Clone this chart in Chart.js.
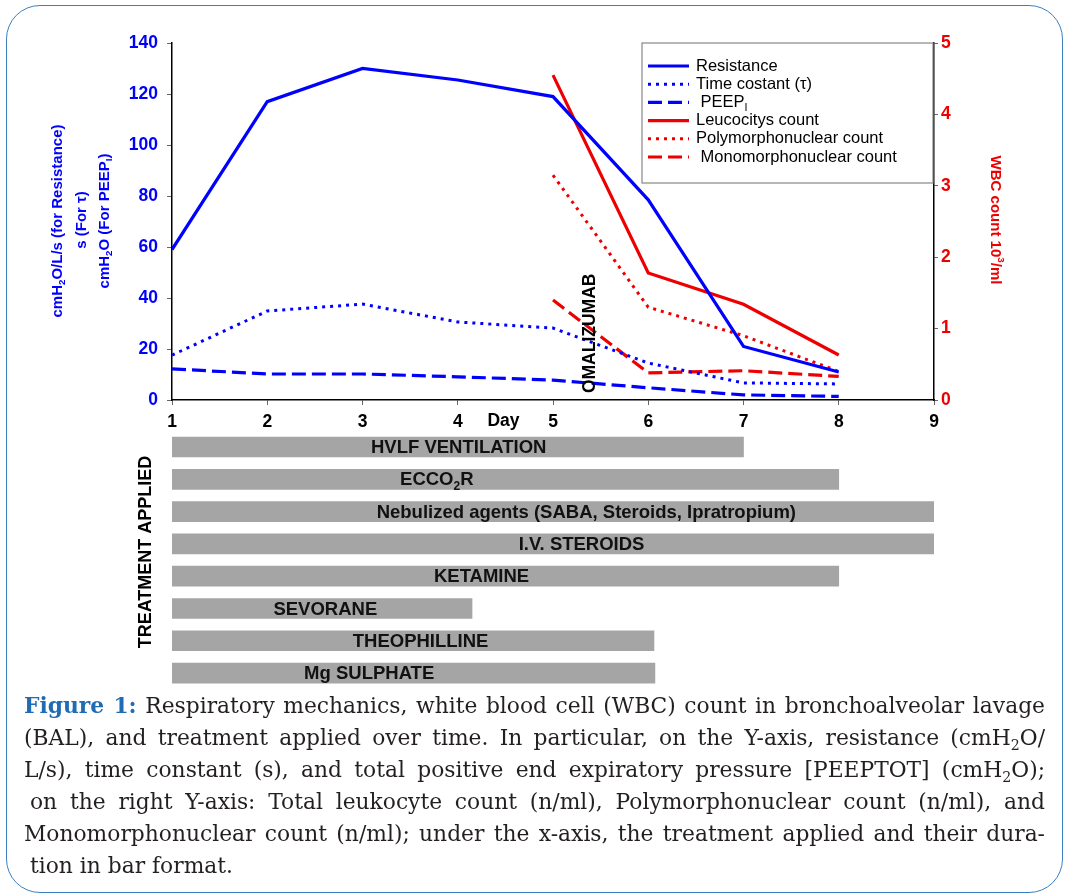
<!DOCTYPE html>
<html><head><meta charset="utf-8">
<script src="https://cdn.jsdelivr.net/npm/chart.js@4.4.0/dist/chart.umd.min.js"></script>
<style>
html,body{margin:0;padding:0;background:#fff;}
body{width:1065px;height:895px;position:relative;overflow:hidden;}
#frame{position:absolute;left:6px;top:5px;width:1057px;height:888px;border:1.5px solid #3b7fc0;border-radius:34px;box-sizing:border-box;}
#c1{position:absolute;left:0;top:0;}
#c2{position:absolute;left:0;top:425px;}
#caption{position:absolute;left:24px;top:690px;width:1021px;font-family:'DejaVu Serif',serif;font-size:21.8px;line-height:32px;color:#231f20;}
#caption .ln{text-align:justify;text-align-last:justify;height:32px;overflow:visible;}
#caption .last{text-align-last:left;}
#caption b{color:#1f6cb4;}
#caption sub{font-size:0.65em;line-height:0;vertical-align:-0.35em;}
</style></head>
<body>
<div id="frame"></div>
<canvas id="c1" width="1065" height="440"></canvas>
<canvas id="c2" width="1065" height="270"></canvas>
<div id="caption">
<div class="ln"><b>Figure 1:</b> Respiratory mechanics, white blood cell (WBC) count in bronchoalveolar lavage</div>
<div class="ln">(BAL), and treatment applied over time. In particular, on the Y-axis, resistance (cmH<sub>2</sub>O/</div>
<div class="ln">L/s), time constant (s), and total positive end expiratory pressure [PEEPTOT] (cmH<sub>2</sub>O);</div>
<div class="ln" style="padding-left:6px">on the right Y-axis: Total leukocyte count (n/ml), Polymorphonuclear count (n/ml), and</div>
<div class="ln">Monomorphonuclear count (n/ml); under the x-axis, the treatment applied and their dura-</div>
<div class="ln last" style="padding-left:6px">tion in bar format.</div>
</div>
<script>
// ---------- DATA ----------
const days = [1, 2, 3, 4, 5, 6, 7, 8];
const resistance = [59, 117, 130, 125.5, 119, 78.5, 21, 11];
const timeConstant = [17.6, 34.9, 37.6, 30.6, 28.2, 14.5, 6.7, 6.3];
const peepI = [12.2, 10.2, 10.2, 9.1, 7.8, 4.8, 2.0, 1.4];
const wbcDays = [5, 6, 7, 8];
const leucocytes = [4.55, 1.78, 1.34, 0.63];
const polymorphonuclear = [3.15, 1.30, 0.90, 0.40];
const monomorphonuclear = [1.40, 0.38, 0.41, 0.33];
const leftTicks = [0, 20, 40, 60, 80, 100, 120, 140];
const rightTicks = [0, 1, 2, 3, 4, 5];
const dayTicks = [1, 2, 3, 4, 5, 6, 7, 8, 9];
const treatments = ['HVLF VENTILATION', 'ECCO_{2}R', 'Nebulized agents (SABA, Steroids, Ipratropium)', 'I.V. STEROIDS', 'KETAMINE', 'SEVORANE', 'THEOPHILLINE', 'Mg SULPHATE'];
const treatmentStart = [1, 1, 1, 1, 1, 1, 1, 1];
const treatmentEnd = [7, 8, 9, 9, 8, 4.15, 6.06, 6.07];

// ---------- helpers ----------
const BLUE = '#0000ff', RED = '#ee0000';
function parseRich(s) {
  const out = []; const re = /([_^])\{([^}]*)\}/g; let last = 0, m;
  while ((m = re.exec(s))) {
    if (m.index > last) out.push({ t: s.slice(last, m.index) });
    out.push({ t: m[2], mode: m[1] === '_' ? 'sub' : 'sup' });
    last = re.lastIndex;
  }
  if (last < s.length) out.push({ t: s.slice(last) });
  return out;
}
function fontStr(weight, size, fam) { return weight + ' ' + size + 'px ' + fam; }
function richWidth(ctx, s, size, weight, fam) {
  let w = 0;
  for (const seg of parseRich(s)) {
    ctx.font = fontStr(weight, seg.mode ? size * 0.65 : size, fam);
    w += ctx.measureText(seg.t).width;
  }
  return w;
}
function drawRich(ctx, s, x, y, size, weight, fam, align) {
  const w = richWidth(ctx, s, size, weight, fam);
  let cx = align === 'center' ? x - w / 2 : (align === 'right' ? x - w : x);
  ctx.textAlign = 'left'; ctx.textBaseline = 'middle';
  for (const seg of parseRich(s)) {
    const sz = seg.mode ? size * 0.65 : size;
    ctx.font = fontStr(weight, sz, fam);
    const dy = seg.mode === 'sub' ? size * 0.32 : (seg.mode === 'sup' ? -size * 0.38 : 0);
    ctx.fillText(seg.t, cx, y + dy);
    cx += ctx.measureText(seg.t).width;
  }
}
const SANS = '"Liberation Sans", Arial, sans-serif';

// ---------- main chart ----------
const legendLabels = ['Resistance', 'Time costant (τ)', ' PEEP_{I}', 'Leucocitys count', 'Polymorphonuclear count', ' Monomorphonuclear count'];

const annotations = {
  id: 'annotations',
  afterDraw(chart) {
    const ctx = chart.ctx, xs = chart.scales.x, yl = chart.scales.y;
    ctx.save();
    const lt = chart.options.plugins.annotations.leftTitles;
    lt.forEach(t => {
      ctx.save(); ctx.translate(t.x, t.y); ctx.rotate(-Math.PI / 2);
      ctx.fillStyle = BLUE; drawRich(ctx, t.text, 0, 0, 15, 'bold', SANS, 'center');
      ctx.restore();
    });
    const rt = chart.options.plugins.annotations.rightTitle;
    ctx.save(); ctx.translate(rt.x, rt.y); ctx.rotate(Math.PI / 2);
    ctx.fillStyle = RED; drawRich(ctx, rt.text, 0, 0, 15, 'bold', SANS, 'center');
    ctx.restore();
    ctx.fillStyle = '#000';
    drawRich(ctx, 'Day', xs.getPixelForValue(4.48), xs.top + 21, 17.5, 'bold', SANS, 'center');
    ctx.save();
    ctx.translate(xs.getPixelForValue(5.39), yl.getPixelForValue(2.7)); ctx.rotate(-Math.PI / 2);
    ctx.fillStyle = '#000'; drawRich(ctx, 'OMALIZUMAB', 0, 0, 17.5, 'bold', SANS, 'left');
    ctx.restore();
    const L = chart.options.plugins.annotations.legendBox;
    ctx.strokeStyle = '#888'; ctx.lineWidth = 1.2;
    ctx.strokeRect(L.x0, L.y0, L.x1 - L.x0, L.y1 - L.y0);
    chart.data.datasets.forEach((ds, i) => {
      const y = L.rowStart + i * L.rowStep;
      ctx.save();
      ctx.strokeStyle = ds.borderColor; ctx.lineWidth = ds.borderWidth;
      ctx.setLineDash(ds.borderDash || []);
      ctx.beginPath(); ctx.moveTo(L.x0 + 6, y); ctx.lineTo(L.x0 + 47, y); ctx.stroke();
      ctx.restore();
      ctx.fillStyle = '#000';
      drawRich(ctx, legendLabels[i], L.x0 + 54, y, 16.5, 'normal', SANS, 'left');
    });
    ctx.restore();
  }
};

const tickFont = { family: SANS, size: 17.5, weight: 'bold' };
new Chart(document.getElementById('c1'), {
  type: 'line',
  data: {
    datasets: [
      { label: legendLabels[0], data: days.map((d, i) => ({ x: d, y: resistance[i] })), borderColor: BLUE, borderWidth: 3.2, yAxisID: 'y' },
      { label: legendLabels[1], data: days.map((d, i) => ({ x: d, y: timeConstant[i] })), borderColor: BLUE, borderWidth: 3, borderDash: [3, 5], yAxisID: 'y' },
      { label: legendLabels[2], data: days.map((d, i) => ({ x: d, y: peepI[i] })), borderColor: BLUE, borderWidth: 3.2, borderDash: [14, 6], yAxisID: 'y' },
      { label: legendLabels[3], data: wbcDays.map((d, i) => ({ x: d, y: leucocytes[i] })), borderColor: RED, borderWidth: 3.2, yAxisID: 'y1' },
      { label: legendLabels[4], data: wbcDays.map((d, i) => ({ x: d, y: polymorphonuclear[i] })), borderColor: RED, borderWidth: 3, borderDash: [3, 5], yAxisID: 'y1' },
      { label: legendLabels[5], data: wbcDays.map((d, i) => ({ x: d, y: monomorphonuclear[i] })), borderColor: RED, borderWidth: 3.2, borderDash: [14, 6], yAxisID: 'y1' }
    ]
  },
  options: {
    responsive: false, animation: false, devicePixelRatio: 1,
    layout: { padding: { top: 43, left: 0, right: 0, bottom: 0 } },
    elements: { point: { radius: 0, hoverRadius: 0 }, line: { tension: 0, fill: false } },
    plugins: {
      legend: { display: false }, tooltip: { enabled: false },
      annotations: {
        leftTitles: [
          { text: 'cmH_{2}O/L/s (for Resistance)', x: 58, y: 221 },
          { text: 's (For τ)', x: 82, y: 220 },
          { text: 'cmH_{2}O (For PEEP_{I})', x: 105, y: 221 }
        ],
        rightTitle: { text: 'WBC count 10^{3}/ml', x: 995, y: 220 },
        legendBox: { x0: 642, y0: 43, x1: 933, y1: 183, rowStart: 66, rowStep: 18.2 }
      }
    },
    scales: {
      x: {
        type: 'linear', min: 1, max: 9,
        afterBuildTicks: s => { s.ticks = dayTicks.map(v => ({ value: v })); },
        afterFit: s => { s.height = 40; },
        ticks: { color: '#000', font: tickFont, padding: 7, maxRotation: 0 },
        grid: { drawOnChartArea: false, drawTicks: true, tickLength: 5, color: '#666', lineWidth: 1 },
        border: { display: true, color: '#000', width: 1.5 }
      },
      y: {
        type: 'linear', position: 'left', min: 0, max: 140,
        afterBuildTicks: s => { s.ticks = leftTicks.map(v => ({ value: v })); },
        afterFit: s => { s.width = 172; },
        ticks: { color: BLUE, font: tickFont, padding: 9 },
        grid: { drawOnChartArea: false, drawTicks: true, tickLength: 5, color: '#666', lineWidth: 1 },
        border: { display: true, color: '#000', width: 1.5 }
      },
      y1: {
        type: 'linear', position: 'right', min: 0, max: 5,
        afterBuildTicks: s => { s.ticks = rightTicks.map(v => ({ value: v })); },
        afterFit: s => { s.width = 131; },
        ticks: { color: RED, font: tickFont, padding: 3 },
        grid: { drawOnChartArea: false, drawTicks: true, tickLength: 4, color: '#666', lineWidth: 1 },
        border: { display: true, color: '#000', width: 1.5 }
      }
    }
  },
  plugins: [annotations]
});

// ---------- treatment bars ----------
const barLabels = {
  id: 'barLabels',
  afterDatasetsDraw(chart) {
    const ctx = chart.ctx, xs = chart.scales.x, ys = chart.scales.y;
    const o = chart.options.plugins.barLabels;
    ctx.save(); ctx.fillStyle = '#111';
    treatments.forEach((t, i) => {
      drawRich(ctx, t, xs.getPixelForValue(o.centers[i]), ys.getPixelForValue(i) + 1, 18.5, 'bold', SANS, 'center');
    });
    ctx.translate(o.titleX, o.titleY); ctx.rotate(-Math.PI / 2);
    ctx.fillStyle = '#000';
    drawRich(ctx, 'TREATMENT APPLIED', 0, 0, 18, 'bold', SANS, 'center');
    ctx.restore();
  }
};
new Chart(document.getElementById('c2'), {
  type: 'bar',
  data: {
    labels: treatments,
    datasets: [{ data: treatmentStart.map((s, i) => [s, treatmentEnd[i]]), backgroundColor: '#a5a5a5', borderWidth: 0, barThickness: 20 }]
  },
  options: {
    indexAxis: 'y', responsive: false, animation: false, devicePixelRatio: 1,
    layout: { padding: { left: 172, right: 131, top: 5.9, bottom: 5.8 } },
    plugins: {
      legend: { display: false }, tooltip: { enabled: false },
      barLabels: { centers: [4.01, 3.78, 5.35, 5.30, 4.25, 2.61, 3.61, 3.07], titleX: 146, titleY: 127 }
    },
    scales: {
      x: { type: 'linear', min: 1, max: 9, display: false },
      y: { display: false }
    }
  },
  plugins: [barLabels]
});
</script>
</body></html>
